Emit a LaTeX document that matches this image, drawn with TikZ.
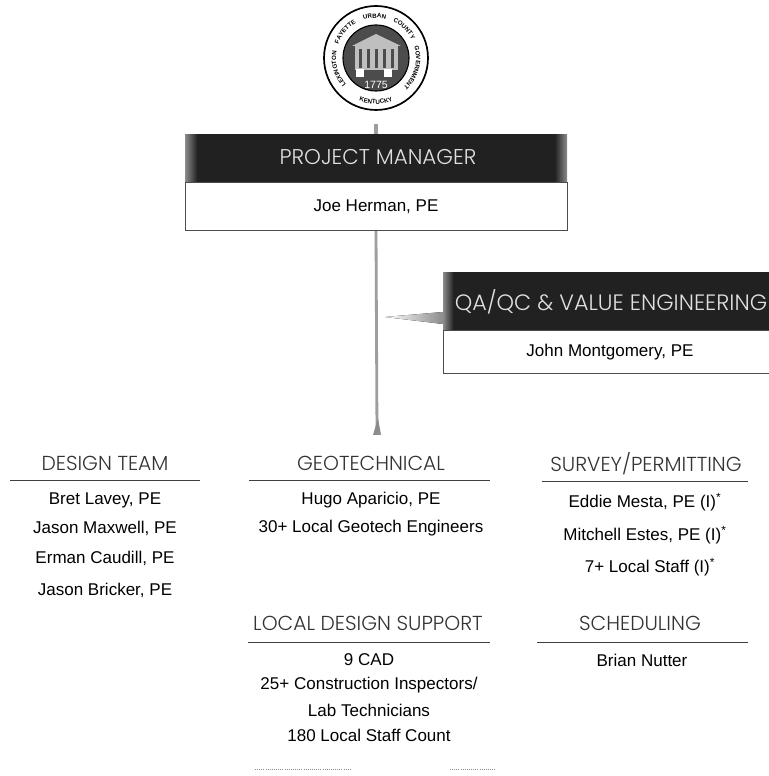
\documentclass[tikz,border=0pt]{standalone}
\usepackage{fontspec}
\usepackage{tikz}
\usetikzlibrary{decorations.text}
\setmainfont{Liberation Sans}
\newfontfamily\headfont[UprightFont=* Light]{Poppins}
\newcommand{\sealfont}{\fontsize{4.4}{4.4}\selectfont\bfseries}
\definecolor{barblack}{rgb}{0.13,0.13,0.13}
\definecolor{sealgray}{rgb}{0.30,0.30,0.30}
\pgfdeclarehorizontalshading{pmshade}{100bp}{color(0bp)=(black!45); color(25bp)=(black!45); color(26.6bp)=(barblack); color(73.4bp)=(barblack); color(75bp)=(black!45); color(100bp)=(black!45)}
\pgfdeclarehorizontalshading{qashade}{100bp}{color(0bp)=(black!45); color(25bp)=(black!45); color(26.6bp)=(barblack); color(100bp)=(barblack)}
\pgfdeclarelayer{edgelayer}
\pgfdeclarelayer{nodelayer}
\pgfsetlayers{edgelayer,nodelayer,main}
\tikzstyle{none}=[inner sep=0pt]
\tikzstyle{person}=[inner sep=0pt,font=\fontsize{12.1}{12.1}\selectfont,text=black]
\tikzstyle{heading}=[inner sep=0pt,font=\fontsize{14.4}{14.4}\selectfont\headfont,text=black!80]
\tikzstyle{barhead}=[inner sep=0pt,font=\fontsize{15.2}{15.2}\selectfont\headfont,text=white!88!black]
\tikzstyle{namebox}=[rectangle,draw=black!70,fill=white,line width=0.6]
\tikzstyle{rule}=[-,draw=black!75,line width=0.7]
\tikzstyle{trunk}=[-,draw=black!38,line width=2.0]
\tikzstyle{speck}=[-,draw=black!45,line width=0.5,densely dotted]
\begin{document}
\begin{tikzpicture}[x=0.025cm,y=0.025cm]
	\useasboundingbox (0,0) rectangle (769,776);
	\begin{pgfonlayer}{nodelayer}
		% county seal
		\node [circle,draw=black,fill=white,line width=1.2,minimum size=104*0.025cm,inner sep=0pt] (seal) at (376, 718) {};
		\node [circle,draw=black,fill=sealgray,line width=0.8,minimum size=66*0.025cm,inner sep=0pt] (sealin) at (376, 718) {};
		\fill [black!25] (355, 706) rectangle (398, 730);
		\fill [black!25] (352, 730) -- (376, 742) -- (401, 730) -- cycle;
		\foreach \c in {360,368,376,384,392}
			\fill [black!70] (\c-1.5, 708) rectangle (\c+1.5, 727);
		\fill [white] (356, 699) rectangle (364, 707);
		\fill [white] (384, 699) rectangle (392, 707);
		\node [inner sep=0pt,text=white,font=\fontsize{7.5}{7.5}\selectfont] (year) at (376, 691) {1775};
		\foreach \word/\from/\to in {LEXINGTON/226/166,FAYETTE/164/116,URBAN/112/72,COUNTY/68/24,GOVERNMENT/20/-50}
			\path [decorate,decoration={text along path,text align=center,text={|\sealfont|\word}}] (376, 718) ++(\from:40) arc (\from:\to:40);
		\path [decorate,decoration={text along path,text align=center,text={|\sealfont|KENTUCKY}}] (376, 718) ++(234:46) arc (234:306:46);
		% boxes with dark bars
		\node [style=namebox,minimum width=382*0.025cm,minimum height=48*0.025cm] (pmbox) at (376, 570) {};
		\node [shading=pmshade,minimum width=382*0.025cm,minimum height=47*0.025cm,inner sep=0pt] (pmbar) at (376, 617.5) {};
		\node [style=barhead] (pmhead) at (378, 619) {PROJECT MANAGER};
		\node [style=person] (joe) at (376, 569) {Joe Herman, PE};
		\node [style=namebox,minimum width=340*0.025cm,minimum height=43*0.025cm] (qabox) at (613, 424.5) {};
		\node [shading=qashade,minimum width=326*0.025cm,minimum height=57*0.025cm,inner sep=0pt] (qabar) at (606, 474.5) {};
		\node [style=barhead,font=\fontsize{15.8}{15.8}\selectfont\headfont] (qahead) at (611, 474) {QA/QC \& VALUE ENGINEERING};
		\node [style=person] (john) at (610, 424) {John Montgomery, PE};
		% design team
		\node [style=heading] (design) at (105, 313) {DESIGN TEAM};
		\node [style=none] (designL) at (10, 296) {};
		\node [style=none] (designR) at (200, 296) {};
		\node [style=person] (bret) at (105, 276) {Bret Lavey, PE};
		\node [style=person] (maxwell) at (105, 248) {Jason Maxwell, PE};
		\node [style=person] (erman) at (105, 218) {Erman Caudill, PE};
		\node [style=person] (bricker) at (105, 186) {Jason Bricker, PE};
		% geotechnical
		\node [style=heading] (geo) at (371, 313) {GEOTECHNICAL};
		\node [style=none] (geoL) at (249, 296) {};
		\node [style=none] (geoR) at (490, 296) {};
		\node [style=person] (hugo) at (371, 276) {Hugo Aparicio, PE};
		\node [style=person] (geostaff) at (371, 248) {30+ Local Geotech Engineers};
		% survey
		\node [style=heading] (survey) at (646, 312) {SURVEY/PERMITTING};
		\node [style=none] (surveyL) at (542, 295) {};
		\node [style=none] (surveyR) at (748, 295) {};
		\node [style=person] (eddie) at (645, 274) {Eddie Mesta, PE (I)\textsuperscript{*}};
		\node [style=person] (mitchell) at (645, 241) {Mitchell Estes, PE (I)\textsuperscript{*}};
		\node [style=person] (surveystaff) at (650, 209) {7+ Local Staff (I)\textsuperscript{*}};
		% local design support
		\node [style=heading] (local) at (368, 153) {LOCAL DESIGN SUPPORT};
		\node [style=none] (localL) at (248, 134) {};
		\node [style=none] (localR) at (490, 134) {};
		\node [style=person] (cad) at (369, 116) {9 CAD};
		\node [style=person] (inspect) at (369, 91) {25+ Construction Inspectors/};
		\node [style=person] (lab) at (369, 66) {Lab Technicians};
		\node [style=person] (count) at (369, 41) {180 Local Staff Count};
		% scheduling
		\node [style=heading] (sched) at (640, 153) {SCHEDULING};
		\node [style=none] (schedL) at (537, 134) {};
		\node [style=none] (schedR) at (748, 134) {};
		\node [style=person] (brian) at (642, 116) {Brian Nutter};
		% remains at the foot of the page
		\node [style=none] (speckA) at (255, 7) {};
		\node [style=none] (speckB) at (350, 7) {};
		\node [style=none] (speckC) at (450, 7) {};
		\node [style=none] (speckD) at (495, 7) {};
		% ends of the connectors
		\coordinate (sealtip) at (376, 652);
		\coordinate (trunktip) at (377, 341);
		\coordinate (teetop) at (443, 464);
		\coordinate (teebot) at (443, 452);
		\coordinate (tee) at (385, 459);
	\end{pgfonlayer}
	\begin{pgfonlayer}{edgelayer}
		\draw [style=trunk,line width=3.0] (pmbar.north) to (sealtip);
		\draw [style=trunk] (pmbox.south) to (trunktip);
		\fill [black!45] (373, 341) -- (381, 341) -- (378, 358) -- cycle;
		\fill [left color=white,right color=black!45] (tee) -- (teetop) -- (teebot) -- cycle;
		\draw [style=rule] (designL.center) to (designR.center);
		\draw [style=rule] (geoL.center) to (geoR.center);
		\draw [style=rule] (surveyL.center) to (surveyR.center);
		\draw [style=rule] (localL.center) to (localR.center);
		\draw [style=rule] (schedL.center) to (schedR.center);
		\draw [style=speck] (speckA.center) to (speckB.center);
		\draw [style=speck] (speckC.center) to (speckD.center);
	\end{pgfonlayer}
\end{tikzpicture}
\end{document}
